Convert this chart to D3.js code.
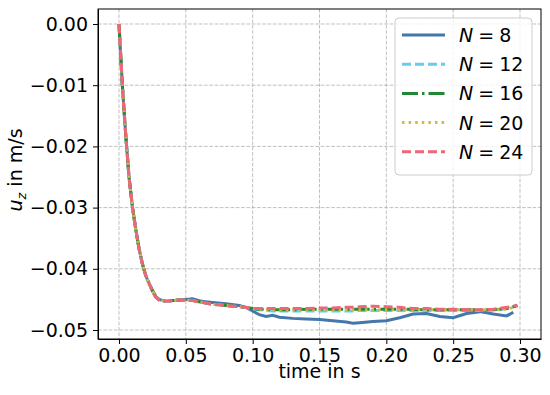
<!DOCTYPE html>
<html lang="en">
<head>
<meta charset="UTF-8">
<title>u_z over time</title>
<style>
    body { margin: 0; background: #fff; }
    svg text { font-family: "DejaVu Sans", sans-serif; fill: #000; }
    .grid line { stroke: #b0b0b0; stroke-width: 0.8; stroke-dasharray: 3.7,1.6; }
    .axis path, .axis line { stroke: #000; stroke-width: 1; }
</style>
</head>
<body>
<svg width="550" height="395"></svg>
<script src="https://cdn.jsdelivr.net/npm/d3@7"></script>
<script>

var times = [0, 0.0025, 0.005, 0.0075, 0.01, 0.0125, 0.015, 0.0175, 0.02, 0.0225,
    0.025, 0.0275, 0.03, 0.035, 0.04, 0.045, 0.05, 0.055, 0.06, 0.065,
    0.07, 0.08, 0.09, 0.095, 0.1, 0.105, 0.11, 0.115, 0.12, 0.13,
    0.14, 0.15, 0.16, 0.17, 0.175, 0.18, 0.19, 0.2, 0.21, 0.22,
    0.23, 0.24, 0.25, 0.26, 0.27, 0.28, 0.29, 0.295, 0.298];

var uN8 = [0, -0.0100, -0.0180, -0.0250, -0.0298, -0.0335, -0.0367, -0.0392, -0.0411, -0.0424,
    -0.0435, -0.0445, -0.0450, -0.0453, -0.0452, -0.0451, -0.0450, -0.0449, -0.0452, -0.0454,
    -0.0455, -0.0457, -0.0460, -0.0463, -0.0469, -0.0475, -0.0478, -0.0476, -0.0479, -0.0481,
    -0.0482, -0.0483, -0.0485, -0.0487, -0.0489, -0.0488, -0.0486, -0.0485, -0.0480, -0.0474,
    -0.0473, -0.0478, -0.0480, -0.0473, -0.0470, -0.0474, -0.0477, -0.0471, null];

var uN12 = [0, -0.0100, -0.0180, -0.0250, -0.0298, -0.0335, -0.0367, -0.0392, -0.0411, -0.0424,
    -0.0436, -0.0446, -0.0451, -0.0453, -0.0452, -0.0451, -0.0451, -0.0452, -0.0454, -0.0456,
    -0.0458, -0.0460, -0.0462, -0.0463, -0.0466, -0.0467, -0.0468, -0.0469, -0.0469, -0.0469,
    -0.0469, -0.0469, -0.0469, -0.0469, -0.0469, -0.0468, -0.0468, -0.0468, -0.0468, -0.0468,
    -0.0468, -0.0468, -0.0468, -0.0468, -0.0468, -0.0467, -0.0465, -0.0462, -0.0459];

var uN16 = [0, -0.0100, -0.0180, -0.0250, -0.0298, -0.0335, -0.0367, -0.0392, -0.0411, -0.0424,
    -0.0436, -0.0446, -0.0451, -0.0453, -0.0452, -0.0451, -0.0451, -0.0452, -0.0454, -0.0456,
    -0.0458, -0.0460, -0.0462, -0.0463, -0.0465, -0.0466, -0.0466, -0.0467, -0.0467, -0.0467,
    -0.0466, -0.0466, -0.0466, -0.0466, -0.0466, -0.0466, -0.0466, -0.0466, -0.0466, -0.0466,
    -0.0467, -0.0467, -0.0467, -0.0467, -0.0467, -0.0467, -0.0465, -0.0462, -0.0460];

var uN20 = [0, -0.0100, -0.0180, -0.0250, -0.0298, -0.0335, -0.0367, -0.0392, -0.0411, -0.0424,
    -0.0436, -0.0446, -0.0451, -0.0453, -0.0452, -0.0451, -0.0451, -0.0452, -0.0454, -0.0456,
    -0.0458, -0.0460, -0.0462, -0.0463, -0.0465, -0.0466, -0.0467, -0.0467, -0.0467, -0.0467,
    -0.0467, -0.0467, -0.0467, -0.0467, -0.0467, -0.0467, -0.0467, -0.0467, -0.0467, -0.0467,
    -0.0467, -0.0467, -0.0467, -0.0467, -0.0467, -0.0467, -0.0466, -0.0463, -0.0461];

var uN24 = [0, -0.0100, -0.0180, -0.0250, -0.0298, -0.0335, -0.0367, -0.0392, -0.0411, -0.0424,
    -0.0436, -0.0446, -0.0451, -0.0453, -0.0452, -0.0451, -0.0451, -0.0452, -0.0454, -0.0456,
    -0.0458, -0.0460, -0.0462, -0.0463, -0.0465, -0.0465, -0.0465, -0.0465, -0.0465, -0.0465,
    -0.0465, -0.0464, -0.0464, -0.0463, -0.0463, -0.0462, -0.0461, -0.0462, -0.0463, -0.0465,
    -0.0465, -0.0466, -0.0466, -0.0467, -0.0467, -0.0466, -0.0463, -0.0461, -0.0460];

var seriesNames = ["8", "12", "16", "20", "24"];
var seriesValues = [uN8, uN12, uN16, uN20, uN24];
var seriesColors = ["#4477aa", "#66ccee", "#228833", "#ccbb44", "#ee6677"];
var seriesDash = [null, "9,4", "16,4,2.5,4", "2.5,4.1", "9,4"];

var xTicks = [0, 0.05, 0.1, 0.15, 0.2, 0.25, 0.3];
var yTicks = [0, -0.01, -0.02, -0.03, -0.04, -0.05];

var svg = d3.select("svg"),
    pLeft = 98, pRight = 541, pTop = 9, pBottom = 339;

var x = d3.scaleLinear().domain([-0.0157, 0.3157]).range([pLeft, pRight]);
var y = d3.scaleLinear().domain([-0.05147, 0.00245]).range([pBottom, pTop]);

// grid
var grid = svg.append("g").attr("class", "grid");
grid.selectAll(".gx").data(xTicks).enter().append("line")
    .attr("x1", function(d) { return x(d); }).attr("x2", function(d) { return x(d); })
    .attr("y1", pTop).attr("y2", pBottom);
grid.selectAll(".gy").data(yTicks).enter().append("line")
    .attr("y1", function(d) { return y(d); }).attr("y2", function(d) { return y(d); })
    .attr("x1", pLeft).attr("x2", pRight);

// curves
var line = d3.line()
    .defined(function(d) { return d[1] !== null; })
    .x(function(d) { return x(d[0]); })
    .y(function(d) { return y(d[1]); });

svg.append("clipPath").attr("id", "plotclip")
    .append("rect").attr("x", pLeft).attr("y", pTop).attr("width", pRight - pLeft).attr("height", pBottom - pTop);

seriesValues.forEach(function(vals, i) {
    svg.append("path")
        .datum(times.map(function(t, j) { return [t, vals[j]]; }))
        .attr("clip-path", "url(#plotclip)")
        .attr("fill", "none")
        .attr("stroke", seriesColors[i])
        .attr("stroke-width", 3)
        .attr("stroke-dasharray", seriesDash[i])
        .attr("d", line);
});

// axes
var xAxis = svg.append("g").attr("class", "axis")
    .attr("transform", "translate(0," + pBottom + ")")
    .call(d3.axisBottom(x).tickValues(xTicks).tickFormat(d3.format(".2f")).tickSize(5).tickPadding(5).tickSizeOuter(0));
var yAxis = svg.append("g").attr("class", "axis")
    .attr("transform", "translate(" + pLeft + ",0)")
    .call(d3.axisLeft(y).tickValues(yTicks).tickFormat(d3.format(".2f")).tickSize(5).tickPadding(5).tickSizeOuter(0));
svg.selectAll(".axis text").style("font-size", "19px").style("font-family", "DejaVu Sans");
xAxis.selectAll("text").attr("dy", "0.71em");

svg.append("rect")
    .attr("x", pLeft).attr("y", pTop).attr("width", pRight - pLeft).attr("height", pBottom - pTop)
    .attr("fill", "none").attr("stroke", "#000").attr("stroke-width", 1);

// axis labels
svg.append("text")
    .attr("x", (pLeft + pRight) / 2).attr("y", 378)
    .attr("text-anchor", "middle").style("font-size", "19px")
    .text("time in s");

var yl = svg.append("text")
    .attr("transform", "translate(22,170) rotate(-90)")
    .attr("text-anchor", "middle").style("font-size", "19px");
yl.append("tspan").style("font-style", "italic").text("u");
yl.append("tspan").style("font-style", "italic").style("font-size", "13px").attr("dy", 4).text("z");
yl.append("tspan").attr("dy", -4).text(" in m/s");

// legend
var legend = svg.append("g").attr("transform", "translate(395,18)");
legend.append("rect")
    .attr("width", 137).attr("height", 157).attr("rx", 4)
    .attr("fill", "#fff").attr("fill-opacity", 0.8)
    .attr("stroke", "#cccccc").attr("stroke-width", 1);

seriesNames.forEach(function(n, i) {
    var row = legend.append("g").attr("transform", "translate(0," + (17 + i * 29.2) + ")");
    row.append("line")
        .attr("x1", 7).attr("x2", 50)
        .attr("stroke", seriesColors[i])
        .attr("stroke-width", 3)
        .attr("stroke-dasharray", seriesDash[i]);
    var t = row.append("text").attr("x", 64).attr("y", 7).style("font-size", "19px");
    t.append("tspan").style("font-style", "italic").text("N");
    t.append("tspan").attr("dx", 5).text("=");
    t.append("tspan").attr("dx", 5).text(n);
});

</script>
</body>
</html>
